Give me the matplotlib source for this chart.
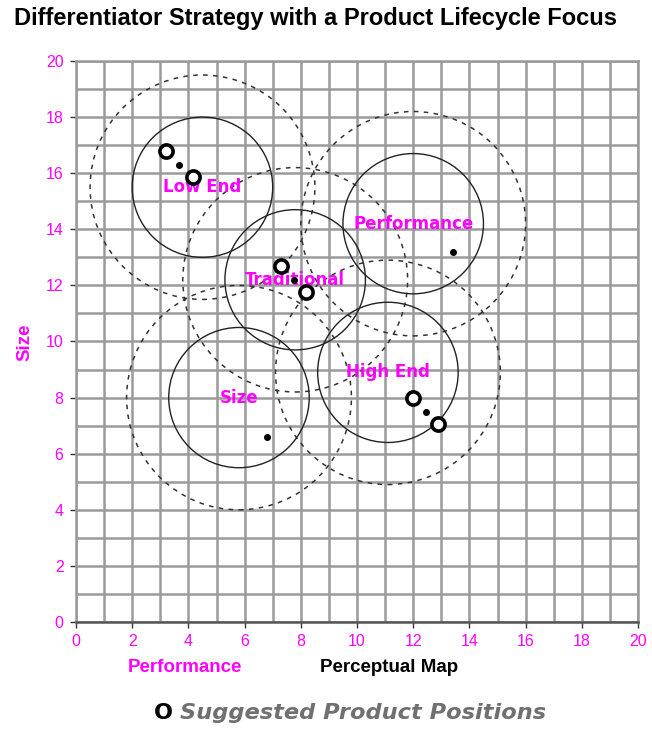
import matplotlib
matplotlib.use("Agg")
import matplotlib.pyplot as plt
from matplotlib.patches import Circle

# ---- data ----
segments = ["Low End", "Traditional", "Performance", "High End", "Size"]
seg_x = [4.5, 7.8, 12.0, 11.1, 5.8]
seg_y = [15.5, 12.2, 14.2, 8.9, 8.0]
inner_r = [2.5, 2.5, 2.5, 2.5, 2.5]
outer_r = [4.0, 4.0, 4.0, 4.0, 4.0]

suggested_x = [3.2, 4.15, 7.3, 8.2, 12.0, 12.9]
suggested_y = [16.8, 15.85, 12.7, 11.75, 8.0, 7.05]
current_x = [3.65, 7.75, 13.4, 6.8, 12.45]
current_y = [16.3, 12.2, 13.2, 6.6, 7.5]

major_ticks = list(range(0, 21, 2))
minor_ticks = list(range(0, 21, 1))

MAG = "#ff00ff"
GRID = "#9a9a9a"

fig = plt.figure(figsize=(6.52, 7.29), dpi=100)
ax = fig.add_axes([76 / 652, 1 - 622 / 729, (638 - 76) / 652, (622 - 61) / 729])
ax.set_xlim(0, 20)
ax.set_ylim(0, 20)

ax.set_xticks(major_ticks)
ax.set_yticks(major_ticks)
ax.set_xticks(minor_ticks, minor=True)
ax.set_yticks(minor_ticks, minor=True)
ax.grid(True, which="both", color=GRID, linewidth=1.8, zorder=0)
ax.set_axisbelow(True)
ax.tick_params(which="minor", length=0)
ax.tick_params(which="major", length=4, width=1.0, color="#333333",
               labelcolor=MAG, labelsize=11.5, pad=5)
for lab in ax.get_xticklabels() + ax.get_yticklabels():
    lab.set_fontfamily("Liberation Sans")
for s in ["top", "right", "left"]:
    ax.spines[s].set_color(GRID)
    ax.spines[s].set_linewidth(1.8)
ax.spines["bottom"].set_color("#555555")
ax.spines["bottom"].set_linewidth(1.8)

for name, cx, cy, ri, ro in zip(segments, seg_x, seg_y, inner_r, outer_r):
    ax.add_patch(Circle((cx, cy), ro, fill=False, edgecolor="#333333",
                        linewidth=1.1, linestyle=(0, (3, 3.5)), zorder=2))
    ax.add_patch(Circle((cx, cy), ri, fill=False, edgecolor="#222222",
                        linewidth=1.0, zorder=2))
    ax.text(cx, cy, name, ha="center", va="center", color=MAG,
            fontsize=12, fontweight="bold", family="DejaVu Sans", zorder=3)

ax.plot(current_x, current_y, linestyle="none", marker="o", markersize=4,
        color="black", zorder=4, clip_on=False)
ax.plot(suggested_x, suggested_y, linestyle="none", marker="o", markersize=9.5,
        markerfacecolor="white", markeredgecolor="black", markeredgewidth=2.6,
        zorder=5, clip_on=False)

fig.text(14 / 652, 1 - 19 / 729, "Differentiator Strategy with a Product Lifecycle Focus",
         ha="left", va="center", fontsize=17, fontweight="bold",
         family="Liberation Sans", color="black")
fig.text(25 / 652, 1 - 342 / 729, "Size", rotation=90, ha="center", va="center",
         fontsize=13.5, fontweight="bold", family="Liberation Sans", color=MAG)
fig.text(185 / 652, 1 - 667 / 729, "Performance", ha="center", va="center",
         fontsize=13.5, fontweight="bold", family="Liberation Sans", color=MAG)
fig.text(389 / 652, 1 - 667 / 729, "Perceptual Map", ha="center", va="center",
         fontsize=13.5, fontweight="bold", family="Liberation Sans", color="black")
fig.text(163 / 652, 1 - 713 / 729, "O", ha="center", va="center",
         fontsize=16, fontweight="bold", family="DejaVu Sans", color="black")
fig.text(180 / 652, 1 - 713 / 729, "Suggested Product Positions", ha="left", va="center",
         fontsize=16.2, fontweight="bold", style="italic", family="DejaVu Sans",
         color="#707070")

fig.savefig("out.png", dpi=100, facecolor="white")
